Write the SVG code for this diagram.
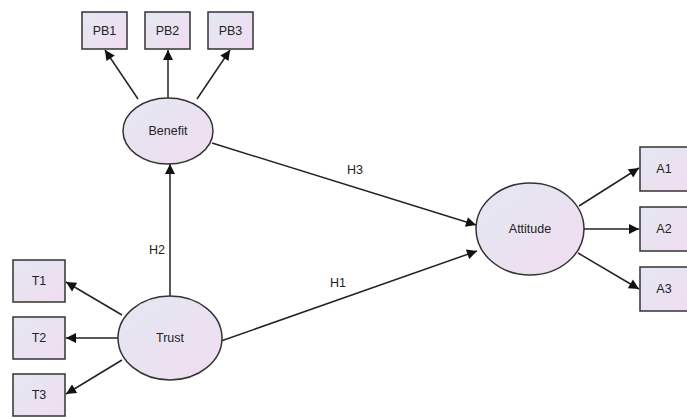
<svg xmlns="http://www.w3.org/2000/svg" width="687" height="418" viewBox="0 0 687 418">
<style>
.n{fill:url(#g);stroke:#333;stroke-width:1.5}
.c{stroke:#222;stroke-width:1.5;fill:none;marker-end:url(#ah)}
text{font-family:"Liberation Sans",Arial,sans-serif;font-size:12.5px;fill:#222;text-anchor:middle;dominant-baseline:central}
</style>
<defs>
<linearGradient id="g" x1="0" y1="0" x2="1" y2="1">
<stop offset="0" stop-color="#e3e8f1"/>
<stop offset="1" stop-color="#f1dcf1"/>
</linearGradient>
<marker id="ah" viewBox="0 0 10 10" refX="10" refY="5" markerWidth="14" markerHeight="10" markerUnits="userSpaceOnUse" orient="auto">
<path d="M0,0 L10,5 L0,10 z" fill="#111"/>
</marker>
</defs>
<rect width="687" height="418" fill="#fff"/>
<g id="connectors">
<line class="c" x1="138" y1="99" x2="105" y2="50"/>
<line class="c" x1="168" y1="98" x2="168" y2="50"/>
<line class="c" x1="197" y1="99" x2="230" y2="50"/>
<line class="c" x1="212" y1="143" x2="476" y2="225"/>
<line class="c" x1="221" y1="341" x2="477" y2="251"/>
<line class="c" x1="170" y1="296" x2="170" y2="164"/>
<line class="c" x1="122" y1="315" x2="66" y2="282"/>
<line class="c" x1="118" y1="338" x2="66" y2="338"/>
<line class="c" x1="122" y1="360" x2="66" y2="394"/>
<line class="c" x1="579" y1="206" x2="639" y2="168"/>
<line class="c" x1="584" y1="229" x2="639" y2="229"/>
<line class="c" x1="578" y1="253" x2="639" y2="289"/>
<text x="355" y="170">H3</text>
<text x="338" y="283">H1</text>
<text x="157" y="250">H2</text>
</g>
<g id="PB1"><rect class="n" x="82" y="12" width="45" height="37"/><text x="104.5" y="30.5">PB1</text></g>
<g id="PB2"><rect class="n" x="145" y="12" width="45" height="37"/><text x="167.5" y="30.5">PB2</text></g>
<g id="PB3"><rect class="n" x="208" y="12" width="45" height="37"/><text x="230.5" y="30.5">PB3</text></g>
<g id="Benefit"><ellipse class="n" cx="168" cy="131" rx="45" ry="33"/><text x="168" y="131">Benefit</text></g>
<g id="Trust"><ellipse class="n" cx="170" cy="338" rx="52" ry="42"/><text x="170" y="338">Trust</text></g>
<g id="Attitude"><ellipse class="n" cx="530" cy="229" rx="54" ry="46"/><text x="530" y="229">Attitude</text></g>
<g id="T1"><rect class="n" x="13" y="260" width="52" height="42"/><text x="39" y="281">T1</text></g>
<g id="T2"><rect class="n" x="13" y="317" width="52" height="42"/><text x="39" y="338">T2</text></g>
<g id="T3"><rect class="n" x="13" y="374" width="52" height="42"/><text x="39" y="395">T3</text></g>
<g id="A1"><rect class="n" x="640" y="147" width="52" height="44"/><text x="664" y="169">A1</text></g>
<g id="A2"><rect class="n" x="640" y="207" width="52" height="44"/><text x="664" y="229">A2</text></g>
<g id="A3"><rect class="n" x="640" y="267" width="52" height="44"/><text x="664" y="289">A3</text></g>
</svg>
